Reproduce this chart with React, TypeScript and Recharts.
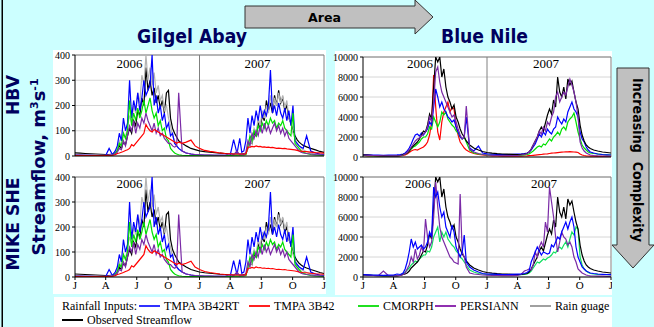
import React from "react";
import { LineChart, Line, XAxis, YAxis, CartesianGrid, ReferenceLine } from "recharts";

// Day index from 1 Jan 2006 to 1 Jan 2008
const days = [
  0, 15, 30, 45, 60, 75, 90, 100, 110, 118,
  124, 130, 136, 142, 148, 154, 160, 166, 172, 178,
  184, 190, 196, 202, 208, 214, 220, 226, 232, 238,
  244, 250, 256, 262, 268, 274, 280, 286, 292, 298,
  304, 314, 326, 340, 352,
  365, 380, 395, 410, 425, 440, 455, 465, 475, 483,
  489, 495, 501, 507, 513, 519, 525, 531, 537, 543,
  549, 555, 561, 567, 573, 579, 585, 591, 597, 603,
  609, 615, 621, 627, 633, 639, 645, 651, 657, 663, 669,
  679, 691, 705, 718, 730,
];

const monthTicks = [0, 90, 181, 273, 365, 455, 546, 638, 730];
const monthLabels = ["J", "A", "J", "O", "J", "A", "J", "O", "J"];
const gaTicks = [0, 100, 200, 300, 400];
const bnTicks = [0, 2000, 4000, 6000, 8000, 10000];
const yearLabels = ["2006", "2007"];

// ---- Gilgel Abay (m3/s) ----
const gaObs = [
  12, 11, 10, 9, 8, 7, 6, 6, 8, 15,
  25, 40, 30, 55, 45, 80, 110, 90, 140, 120,
  180, 160, 230, 200, 350, 260, 300, 240, 270, 210,
  240, 190, 220, 170, 250, 260, 150, 110, 90, 75,
  60, 50, 40, 30, 25,
  20, 17, 15, 13, 11, 10, 9, 8, 8, 8,
  8, 9, 10, 30, 60, 50, 90, 80, 130, 110,
  160, 140, 220, 180, 210, 170, 240, 200, 260, 210,
  230, 180, 200, 150, 130, 100, 80, 65, 55, 48, 42,
  36, 30, 24, 18, 14,
];
const gaGauge = [
  5, 5, 4, 4, 4, 3, 3, 4, 6, 15,
  30, 60, 40, 90, 70, 120, 160, 130, 200, 170,
  250, 210, 320, 280, 400, 300, 350, 280, 330, 250,
  280, 220, 240, 180, 200, 150, 120, 80, 60, 40,
  30, 20, 12, 8, 6,
  5, 4, 4, 3, 3, 3, 3, 4, 4, 5,
  5, 6, 8, 30, 70, 50, 110, 90, 150, 120,
  180, 150, 200, 170, 240, 190, 230, 200, 250, 210,
  240, 190, 220, 150, 130, 90, 70, 50, 40, 30, 25,
  18, 12, 8, 6, 5,
];
const gaRT = [
  3, 3, 3, 3, 2, 2, 2, 30, 5, 20,
  40, 90, 60, 150, 100, 130, 300, 150, 220, 180,
  250, 180, 230, 300, 240, 260, 280, 400, 200, 240,
  170, 200, 140, 170, 110, 130, 80, 90, 50, 40,
  30, 20, 12, 8, 5,
  4, 3, 3, 3, 3, 3, 3, 65, 10, 70,
  15, 20, 60, 150, 90, 160, 120, 180, 140, 200,
  150, 180, 160, 200, 340, 170, 200, 160, 210, 170,
  150, 190, 140, 180, 120, 200, 60, 50, 40, 35, 30,
  80, 20, 12, 8, 6,
];
const gaB42 = [
  2, 2, 2, 2, 2, 2, 2, 2, 3, 5,
  10, 12, 15, 18, 22, 25, 30, 45, 40, 50,
  60, 70, 80, 90, 125, 110, 100, 95, 105, 100,
  95, 90, 85, 80, 75, 70, 65, 60, 55, 50,
  55, 50, 55, 63, 40,
  30, 22, 18, 15, 12, 10, 9, 8, 8, 8,
  8, 8, 8, 35, 35, 38, 36, 40, 37, 38,
  35, 36, 34, 35, 33, 34, 32, 30, 31, 30,
  29, 30, 28, 27, 26, 25, 24, 22, 20, 19, 18,
  17, 15, 13, 12, 11,
];
const gaCmorph = [
  2, 2, 2, 2, 2, 2, 2, 2, 3, 10,
  20, 50, 40, 90, 70, 100, 220, 120, 170, 140,
  190, 150, 180, 220, 170, 200, 230, 180, 150, 170,
  120, 140, 100, 110, 70, 60, 30, 20, 12, 8,
  5, 3, 2, 2, 2,
  2, 2, 2, 2, 2, 2, 2, 3, 3, 3,
  3, 4, 5, 40, 80, 60, 100, 80, 120, 100,
  130, 110, 140, 120, 150, 130, 140, 110, 130, 120,
  140, 110, 100, 90, 80, 170, 50, 40, 30, 20, 15,
  10, 6, 4, 3, 2,
];
const gaPersiann = [
  4, 4, 3, 3, 3, 3, 3, 5, 4, 8,
  15, 30, 25, 60, 40, 80, 120, 100, 140, 90,
  130, 110, 150, 130, 170, 140, 120, 100, 130, 90,
  110, 80, 90, 70, 60, 50, 50, 40, 35, 40,
  250, 20, 12, 8, 6,
  5, 4, 4, 3, 3, 3, 10, 5, 20, 5,
  8, 5, 15, 60, 40, 90, 70, 100, 80, 120,
  90, 130, 100, 120, 90, 110, 130, 100, 120, 90,
  110, 80, 100, 70, 60, 50, 40, 30, 20, 15, 12,
  10, 8, 6, 5, 4,
];

// ---- Blue Nile (m3/s) ----
const bnObs = [
  220, 180, 150, 130, 110, 100, 100, 120, 150, 250,
  300, 400, 600, 900, 1100, 1300, 1500, 1800, 2200, 2600,
  2500, 3200, 4300, 3800, 7000, 10000, 9500, 10000, 8000, 8800,
  7000, 6000, 5500, 4800, 5200, 4000, 3500, 2800, 2300, 2000,
  1600, 1200, 900, 700, 550,
  450, 380, 330, 300, 280, 260, 250, 270, 300, 350,
  500, 800, 1200, 1600, 2000, 2600, 3000, 2600, 3400, 4200,
  4800, 4300, 5700, 5000, 8000, 6500, 6000, 7000, 5800, 7800,
  7200, 7600, 6500, 5500, 4800, 3200, 2200, 1600, 1200, 1000, 850,
  700, 600, 500, 450, 400,
];
const bnB42 = [
  150, 120, 100, 90, 80, 80, 80, 90, 100, 150,
  200, 300, 450, 600, 700, 750, 700, 800, 900, 1000,
  1200, 1500, 2200, 3500, 8200, 5000, 2500, 1700, 3500, 4500,
  5000, 5500, 4500, 5000, 4800, 3000, 2200, 1500, 1200, 900,
  700, 500, 350, 250, 200,
  150, 120, 100, 90, 80, 80, 80, 90, 100, 110,
  130, 150, 170, 190, 210, 230, 250, 280, 300, 320,
  350, 380, 400, 420, 440, 460, 480, 500, 510, 520,
  530, 520, 500, 480, 450, 300, 200, 150, 120, 100, 90,
  80, 70, 60, 55, 50,
];
const bnRT = [
  250, 220, 200, 180, 160, 180, 200, 220, 250, 300,
  400, 600, 900, 1300, 1800, 2200, 2300, 2100, 2400, 2200,
  2500, 2800, 3500, 3200, 5000, 6800, 6000, 5000, 5500, 4800,
  4500, 4000, 3800, 3500, 3700, 3000, 2500, 2000, 1800, 2000,
  4000, 900, 600, 1100, 400,
  320, 280, 250, 250, 250, 260, 280, 300, 350, 400,
  500, 700, 1000, 1300, 1800, 2300, 2000, 2500, 2200, 2800,
  2500, 2300, 2800, 3000, 4000, 3600, 3300, 3800, 3500, 4500,
  5000, 5500, 4800, 4500, 4000, 2500, 1800, 1500, 1000, 700, 500,
  400, 300, 250, 220, 200,
];
const bnCmorph = [
  150, 130, 110, 100, 90, 90, 100, 110, 130, 200,
  300, 400, 600, 800, 1000, 1100, 1300, 1500, 1800, 2000,
  2000, 2300, 3000, 2800, 4000, 3500, 3000, 3500, 4500, 4200,
  4500, 3800, 3500, 3200, 3000, 2600, 2400, 2000, 1800, 2000,
  1500, 700, 400, 300, 250,
  200, 180, 160, 150, 150, 150, 160, 180, 200, 250,
  300, 450, 600, 800, 1000, 1100, 1000, 1300, 1200, 1500,
  1800, 1600, 2000, 2200, 2500, 2200, 2800, 3000, 2700, 3500,
  3800, 4000, 4400, 3500, 2500, 1800, 1200, 900, 700, 500, 400,
  350, 300, 250, 220, 200,
];
const bnPersiann = [
  200, 170, 150, 130, 120, 110, 110, 120, 150, 200,
  300, 450, 700, 1000, 1300, 1600, 1800, 1900, 2100, 2300,
  2500, 3000, 4000, 3500, 5500, 8500, 9000, 7500, 6500, 6000,
  5500, 5000, 4500, 4000, 4200, 3500, 2800, 2200, 1800, 2000,
  5100, 800, 500, 350, 250,
  200, 170, 150, 140, 130, 130, 150, 200, 250, 350,
  500, 800, 1200, 1600, 2000, 2600, 2300, 3000, 2600, 3500,
  3200, 4000, 4500, 6000, 6500, 5500, 6000, 6500, 6200, 7000,
  7800, 7200, 6500, 5500, 4000, 1500, 900, 600, 400, 300, 200,
  150, 120, 100, 90, 80,
];
// MIKE SHE, Blue Nile
const bnRT2 = [
  250, 220, 200, 180, 170, 180, 200, 300, 250, 400,
  800, 1500, 2500, 3800, 3000, 3500, 2800, 3000, 3200, 2800,
  3000, 3500, 4500, 4000, 9000, 8000, 8500, 7000, 6000, 6500,
  5000, 4500, 4000, 5200, 4500, 3000, 2500, 2000, 2500, 4200,
  1500, 1000, 700, 500, 350,
  300, 280, 260, 250, 250, 260, 280, 300, 350, 450,
  600, 1500, 2000, 2500, 3000, 2600, 2200, 2500, 2400, 2300,
  2400, 3200, 3000, 3500, 4000, 3800, 4500, 5000, 5500, 4800,
  5500, 6000, 5000, 3000, 2000, 1500, 1000, 800, 600, 500, 400,
  350, 300, 270, 250, 230,
];
const bnCmorph2 = [
  200, 180, 160, 150, 140, 140, 150, 170, 200, 300,
  500, 700, 900, 1200, 1400, 1600, 1500, 1800, 2000, 2200,
  2200, 2600, 2500, 3000, 4000, 4500, 5000, 3500, 4500, 4000,
  4500, 3800, 3500, 3200, 3000, 2600, 2400, 2000, 1800, 1500,
  1200, 700, 500, 350, 300,
  250, 230, 210, 200, 200, 200, 210, 230, 260, 300,
  400, 600, 900, 1200, 1500, 1400, 1600, 1800, 1700, 1900,
  2000, 2200, 2500, 2400, 2800, 3000, 2800, 3200, 3500, 3000,
  3800, 4500, 4200, 5000, 4800, 2000, 1200, 800, 600, 450, 350,
  300, 270, 250, 240, 230,
];
const bnPersiann2 = [
  200, 180, 150, 140, 600, 130, 120, 130, 150, 250,
  400, 800, 1200, 2000, 1500, 2800, 1800, 2200, 3000, 2500,
  5800, 4000, 3000, 3500, 6000, 9500, 7000, 5000, 4000, 3500,
  3000, 2500, 2000, 1800, 1500, 1400, 1300, 8300, 2500, 2000,
  1000, 400, 300, 250, 200,
  180, 160, 150, 140, 130, 130, 150, 250, 600, 700,
  800, 700, 1200, 2500, 2000, 3000, 3500, 3000, 5500, 4500,
  9000, 7500, 6000, 4000, 2500, 3500, 4500, 4000, 3800, 3200,
  3500, 3000, 2000, 1500, 800, 600, 400, 300, 200, 150, 120,
  100, 90, 80, 70, 60,
];

type S = { key: string; color: string; values: number[] };

const C_RT = "#0000ff";
const C_B42 = "#ff0000";
const C_CM = "#00e000";
const C_PE = "#7a2aa6";
const C_GA = "#b4b4b4";
const C_OB = "#000000";

const gaSeries: S[] = [
  { key: "obs", color: C_OB, values: gaObs },
  { key: "gauge", color: C_GA, values: gaGauge },
  { key: "rt", color: C_RT, values: gaRT },
  { key: "cm", color: C_CM, values: gaCmorph },
  { key: "pe", color: C_PE, values: gaPersiann },
  { key: "b42", color: C_B42, values: gaB42 },
];
const bnTopSeries: S[] = [
  { key: "b42", color: C_B42, values: bnB42 },
  { key: "cm", color: C_CM, values: bnCmorph },
  { key: "rt", color: C_RT, values: bnRT },
  { key: "obs", color: C_OB, values: bnObs },
  { key: "pe", color: C_PE, values: bnPersiann },
];
const bnBotSeries: S[] = [
  { key: "cm", color: "#10e060", values: bnCmorph2 },
  { key: "obs", color: C_OB, values: bnObs },
  { key: "pe", color: C_PE, values: bnPersiann2 },
  { key: "rt", color: C_RT, values: bnRT2 },
];

function rows(series: S[]) {
  return days.map((d, i) => {
    const r: Record<string, number> = { d };
    series.forEach((s) => {
      r[s.key] = s.values[i];
    });
    return r;
  });
}

const serif = "'Liberation Serif', 'Times New Roman', serif";
const sans = "'DejaVu Sans', Verdana, sans-serif";

type PanelProps = {
  left: number;
  top: number;
  width: number;
  height: number;
  series: S[];
  yMax: number;
  yTicks: number[];
  yAxisWidth: number;
  showX: boolean;
  xAxisHeight: number;
  right: number;
};

function Panel(p: PanelProps) {
  const data = rows(p.series);
  return (
    <div style={{ position: "absolute", left: p.left, top: p.top }}>
      <LineChart
        width={p.width}
        height={p.height}
        data={data}
        margin={{ top: 5, right: p.right, left: 0, bottom: 0 }}
      >
        <CartesianGrid vertical={false} stroke="#d6d6d6" />
        <XAxis
          dataKey="d"
          type="number"
          domain={[0, 730]}
          ticks={monthTicks}
          interval={0}
          allowDataOverflow
          height={p.xAxisHeight}
          tickSize={3}
          tickMargin={1}
          stroke="#000"
          tickFormatter={(v: number) => monthLabels[monthTicks.indexOf(v)] ?? ""}
          tick={p.showX ? { fontFamily: serif, fontSize: 11, fill: "#000" } : false}
        />
        <YAxis
          type="number"
          domain={[0, p.yMax]}
          ticks={p.yTicks}
          interval={0}
          allowDataOverflow
          width={p.yAxisWidth}
          tickSize={3}
          tickMargin={2}
          stroke="#000"
          tick={{ fontFamily: serif, fontSize: 10, fill: "#000" }}
        />
        <ReferenceLine x={365} stroke="#808080" strokeWidth={1} />
        <ReferenceLine x={730} stroke="#808080" strokeWidth={1} />
        <ReferenceLine y={p.yMax} stroke="#808080" strokeWidth={1} />
        {p.series.map((s) => (
          <Line
            key={s.key}
            dataKey={s.key}
            type="linear"
            stroke={s.color}
            strokeWidth={1.2}
            dot={false}
            activeDot={false}
            isAnimationActive={false}
          />
        ))}
      </LineChart>
    </div>
  );
}

const legendItems = [
  { label: "TMPA 3B42RT", color: "#3030ff", x: 139 },
  { label: "TMPA 3B42", color: "#ff2020", x: 249 },
  { label: "CMORPH", color: "#20e020", x: 358 },
  { label: "PERSIANN", color: "#9030b0", x: 435 },
  { label: "Rain guage", color: "#a0a0a0", x: 530 },
];

export default function App() {
  const navy = "#00005e";
  return (
    <div
      style={{
        position: "absolute",
        left: 0,
        top: 0,
        width: 654,
        height: 327,
        background: "#ccffff",
        overflow: "hidden",
      }}
    >
      <svg width={654} height={327} style={{ position: "absolute", left: 0, top: 0 }}>
        <rect x={1.5} y={0} width={1.5} height={327} fill="#000" />
        {/* white panels */}
        <rect x={53} y={50} width={273} height={244} fill="#fff" />
        <rect x={335} y={51} width={277} height={244} fill="#fff" />
        <rect x={54} y={297} width={558} height={30} fill="#fff" />

        {/* Area arrow */}
        <polygon
          points="245,6 415,6 415,0 433,17 415,34 415,28 245,28"
          fill="#c0c0c0"
          stroke="#333"
          strokeWidth={1}
        />
        <text x={324.5} y={22} textAnchor="middle" fontFamily={sans} fontWeight="bold" fontSize={13} textLength={33} lengthAdjust="spacingAndGlyphs" fill="#000">
          Area
        </text>

        {/* Complexity arrow */}
        <polygon
          points="617,68 649,68 649,245 654,245 633,268 612,245 617,245"
          fill="#c0c0c0"
          stroke="#333"
          strokeWidth={1}
        />
        <text transform="translate(633,160) rotate(90)" textAnchor="middle" fontFamily={sans} fontWeight="bold" fontSize={14} textLength={164} lengthAdjust="spacingAndGlyphs" fill="#000">
          {"Increasing\u00a0\u00a0Complexity"}
        </text>

        {/* Titles */}
        <text x={192} y={43} textAnchor="middle" fontFamily={sans} fontWeight="bold" fontSize={20} textLength={110} lengthAdjust="spacingAndGlyphs" fill={navy}>
          Gilgel Abay
        </text>
        <text x={484.5} y={43} textAnchor="middle" fontFamily={sans} fontWeight="bold" fontSize={20} textLength={87} lengthAdjust="spacingAndGlyphs" fill={navy}>
          Blue Nile
        </text>

        {/* Left labels */}
        <text transform="translate(19,95) rotate(-90)" textAnchor="middle" fontFamily={sans} fontWeight="bold" fontSize={17} textLength={40} lengthAdjust="spacingAndGlyphs" fill={navy}>
          HBV
        </text>
        <text transform="translate(19,224) rotate(-90)" textAnchor="middle" fontFamily={sans} fontWeight="bold" fontSize={17} textLength={93} lengthAdjust="spacingAndGlyphs" fill={navy}>
          MIKE SHE
        </text>
        <text transform="translate(45,167) rotate(-90)" textAnchor="middle" fontFamily={sans} fontWeight="bold" fontSize={18} fill={navy}>
          Streamflow, m<tspan fontSize={11} dy={-7}>3</tspan>
          <tspan dy={7}>s</tspan>
          <tspan fontSize={11} dy={-7}>-1</tspan>
        </text>

        {/* Year labels */}
        {[
          [129.5, 68, 0],
          [257.5, 68, 1],
          [420, 68, 0],
          [546, 68, 1],
          [129.5, 188, 0],
          [257.5, 188, 1],
          [418, 188, 0],
          [544, 188, 1],
        ].map(([x, y, k], i) => (
          <text key={i} x={x} y={y} textAnchor="middle" fontFamily={serif} fontSize={13} fill="#000">
            {yearLabels[k]}
          </text>
        ))}

        {/* Legend */}
        <text x={62} y={310} fontFamily={serif} fontSize={12} fill="#000">
          Rainfall Inputs:
        </text>
        {legendItems.map((it) => (
          <g key={it.label}>
            <line x1={it.x} x2={it.x + 21} y1={306} y2={306} stroke={it.color} strokeWidth={2} />
            <text x={it.x + 25} y={310} fontFamily={serif} fontSize={12} fill="#000">
              {it.label}
            </text>
          </g>
        ))}
        <line x1={62} x2={83} y1={320} y2={320} stroke="#000" strokeWidth={2} />
        <text x={87} y={324} fontFamily={serif} fontSize={12} fill="#000">
          Observed Streamflow
        </text>
      </svg>

      <Panel left={53} top={50} width={273} height={112} right={2} series={gaSeries} yMax={400} yTicks={gaTicks} yAxisWidth={22} showX={false} xAxisHeight={6} />
      <Panel left={53} top={172} width={273} height={122} right={2} series={gaSeries} yMax={400} yTicks={gaTicks} yAxisWidth={22} showX={true} xAxisHeight={17} />
      <Panel left={329} top={52} width={283} height={111} right={1} series={bnTopSeries} yMax={10000} yTicks={bnTicks} yAxisWidth={34} showX={false} xAxisHeight={6} />
      <Panel left={329} top={172} width={283} height={122} right={1} series={bnBotSeries} yMax={10000} yTicks={bnTicks} yAxisWidth={34} showX={true} xAxisHeight={17} />
    </div>
  );
}
